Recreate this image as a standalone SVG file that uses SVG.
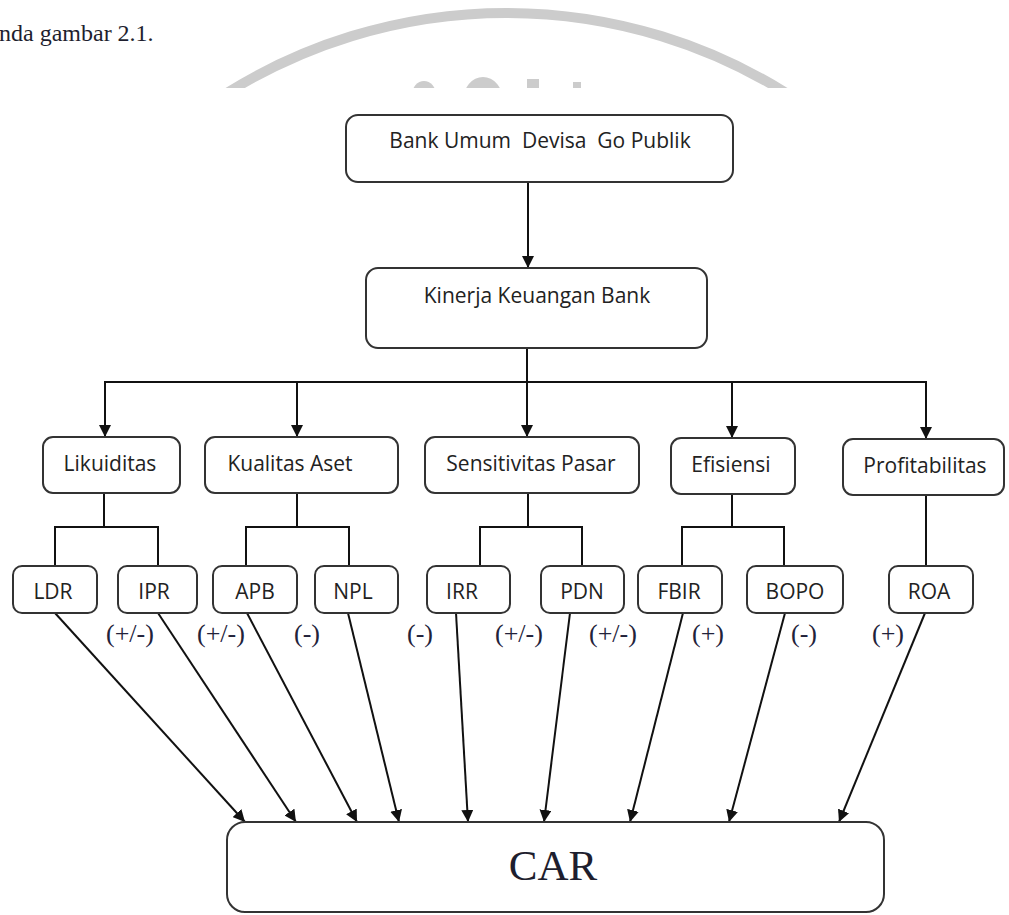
<svg xmlns="http://www.w3.org/2000/svg" width="1009" height="915" viewBox="0 0 1009 915">
<style>
.box{fill:#fff;stroke:#333;stroke-width:2}
.t{font-family:"Open Sans","DejaVu Sans",sans-serif;font-size:21px;fill:#222;text-anchor:middle}
.s{font-family:"Liberation Serif","Times New Roman",serif;fill:#1e1e2e}
.lbl{font-family:"Liberation Serif","Times New Roman",serif;font-size:26px;fill:#22223a}
.c{fill:none;stroke:#111;stroke-width:2}
.wm{fill:#cccccc}
</style>
<defs>
<marker id="ah" viewBox="0 0 12 12" refX="12" refY="6" markerWidth="12" markerHeight="12" markerUnits="userSpaceOnUse" orient="auto">
<path d="M0,0 L12,6 L0,12 Z" fill="#111"/>
</marker>
<clipPath id="wmclip"><rect x="0" y="0" width="1009" height="88"/></clipPath>
</defs>
<rect width="1009" height="915" fill="#fff"/>
<g id="watermark" clip-path="url(#wmclip)">
<path d="M216,100 A528,528 0 0 1 797,100" fill="none" stroke="#cccccc" stroke-width="10"/>
<ellipse class="wm" cx="424" cy="95" rx="12" ry="14"/>
<ellipse class="wm" cx="483" cy="101" rx="20" ry="24"/>
<rect class="wm" x="527" y="79" width="12" height="20"/>
<rect class="wm" x="573" y="82" width="8" height="20"/>
</g>
<text class="s" x="-1" y="41" font-size="24">nda gambar 2.1.</text>
<g id="connectors">
<line class="c" x1="528" y1="182" x2="528" y2="268" marker-end="url(#ah)"/>
<line class="c" x1="527" y1="348" x2="527" y2="437" marker-end="url(#ah)"/>
<line class="c" x1="104" y1="382" x2="927" y2="382"/>
<line class="c" x1="105" y1="381" x2="105" y2="437" marker-end="url(#ah)"/>
<line class="c" x1="297" y1="381" x2="297" y2="437" marker-end="url(#ah)"/>
<line class="c" x1="732" y1="381" x2="732" y2="438" marker-end="url(#ah)"/>
<line class="c" x1="926" y1="381" x2="926" y2="439" marker-end="url(#ah)"/>
<path class="c" d="M104,493 V527 M55,566 V527 H158 V566"/>
<path class="c" d="M297,493 V527 M246,566 V527 H349 V566"/>
<path class="c" d="M528,493 V527 M480,566 V527 H582 V566"/>
<path class="c" d="M732,494 V527 M682,566 V527 H784 V566"/>
<path class="c" d="M926,495 V566"/>
<line class="c" x1="55" y1="613" x2="245" y2="822" marker-end="url(#ah)"/>
<line class="c" x1="158" y1="613" x2="296" y2="822" marker-end="url(#ah)"/>
<line class="c" x1="247" y1="613" x2="357" y2="822" marker-end="url(#ah)"/>
<line class="c" x1="348" y1="613" x2="399" y2="822" marker-end="url(#ah)"/>
<line class="c" x1="456" y1="613" x2="468" y2="822" marker-end="url(#ah)"/>
<line class="c" x1="570" y1="613" x2="544" y2="822" marker-end="url(#ah)"/>
<line class="c" x1="683" y1="613" x2="630" y2="822" marker-end="url(#ah)"/>
<line class="c" x1="785" y1="613" x2="729" y2="822" marker-end="url(#ah)"/>
<line class="c" x1="925" y1="613" x2="839" y2="822" marker-end="url(#ah)"/>
</g>
<g id="labels">
<text class="lbl" x="106" y="642">(+/-)</text>
<text class="lbl" x="197" y="642">(+/-)</text>
<text class="lbl" x="294" y="642">(-)</text>
<text class="lbl" x="407" y="642">(-)</text>
<text class="lbl" x="495" y="642">(+/-)</text>
<text class="lbl" x="589" y="642">(+/-)</text>
<text class="lbl" x="692" y="642">(+)</text>
<text class="lbl" x="791" y="642">(-)</text>
<text class="lbl" x="872" y="642">(+)</text>
</g>
<g id="n-bank"><rect class="box" x="346" y="115" width="387" height="67" rx="12"/><text class="t" x="540" y="148" xml:space="preserve">Bank Umum  Devisa  Go Publik</text></g>
<g id="n-kinerja"><rect class="box" x="366" y="268" width="341" height="80" rx="12"/><text class="t" x="537" y="303">Kinerja Keuangan Bank</text></g>
<g id="n-likuiditas"><rect class="box" x="43" y="437" width="137" height="56" rx="10"/><text class="t" x="110" y="471">Likuiditas</text></g>
<g id="n-kualitas"><rect class="box" x="205" y="437" width="193" height="56" rx="10"/><text class="t" x="290" y="471">Kualitas Aset</text></g>
<g id="n-sensitivitas"><rect class="box" x="425" y="437" width="214" height="56" rx="10"/><text class="t" x="531" y="471">Sensitivitas Pasar</text></g>
<g id="n-efisiensi"><rect class="box" x="671" y="438" width="124" height="56" rx="10"/><text class="t" x="731" y="472">Efisiensi</text></g>
<g id="n-profitabilitas"><rect class="box" x="843" y="439" width="161" height="56" rx="10"/><text class="t" x="925" y="473">Profitabilitas</text></g>
<g id="n-ldr"><rect class="box" x="13" y="566" width="84" height="47" rx="9"/><text class="t" x="53" y="599">LDR</text></g>
<g id="n-ipr"><rect class="box" x="118" y="566" width="79" height="47" rx="9"/><text class="t" x="154" y="599">IPR</text></g>
<g id="n-apb"><rect class="box" x="213" y="566" width="84" height="47" rx="9"/><text class="t" x="255" y="599">APB</text></g>
<g id="n-npl"><rect class="box" x="315" y="566" width="83" height="47" rx="9"/><text class="t" x="353" y="599">NPL</text></g>
<g id="n-irr"><rect class="box" x="427" y="566" width="83" height="47" rx="9"/><text class="t" x="462" y="599">IRR</text></g>
<g id="n-pdn"><rect class="box" x="541" y="566" width="83" height="47" rx="9"/><text class="t" x="582" y="599">PDN</text></g>
<g id="n-fbir"><rect class="box" x="638" y="566" width="84" height="47" rx="9"/><text class="t" x="679" y="599">FBIR</text></g>
<g id="n-bopo"><rect class="box" x="747" y="566" width="96" height="47" rx="9"/><text class="t" x="795" y="599">BOPO</text></g>
<g id="n-roa"><rect class="box" x="889" y="566" width="84" height="47" rx="9"/><text class="t" x="929" y="599">ROA</text></g>
<g id="n-car"><rect class="box" x="227" y="822" width="657" height="90" rx="18"/><text class="s" x="553" y="880" font-size="43" text-anchor="middle">CAR</text></g>
</svg>
